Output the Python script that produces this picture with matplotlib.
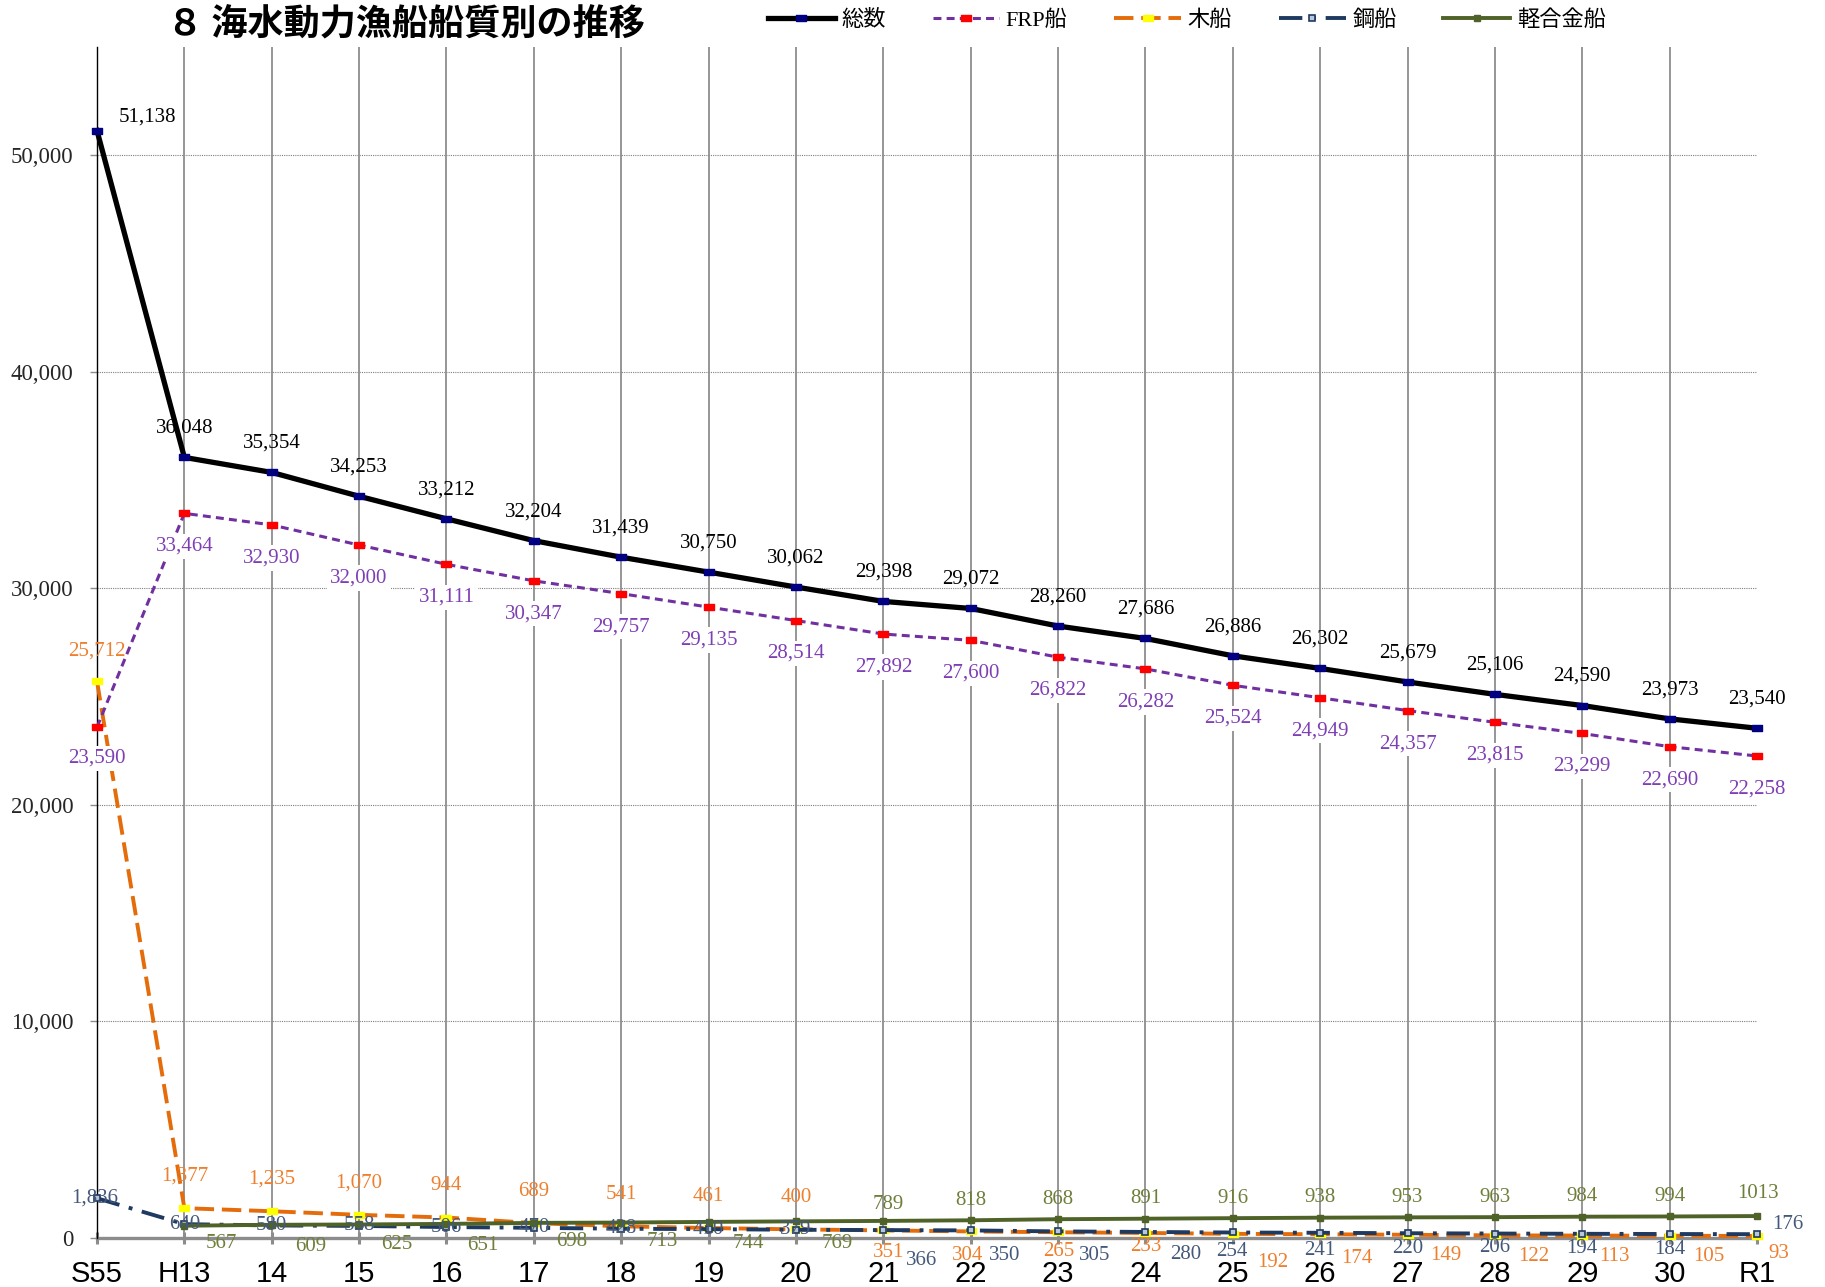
import matplotlib
matplotlib.use('Agg')
import matplotlib.pyplot as plt
import numpy as np

# ---------------- data ----------------
categories = ['S55', 'H13', '14', '15', '16', '17', '18', '19', '20', '21',
              '22', '23', '24', '25', '26', '27', '28', '29', '30', 'R1']
total = [51138, 36048, 35354, 34253, 33212, 32204, 31439, 30750, 30062, 29398,
         29072, 28260, 27686, 26886, 26302, 25679, 25106, 24590, 23973, 23540]
frp = [23590, 33464, 32930, 32000, 31111, 30347, 29757, 29135, 28514, 27892,
       27600, 26822, 26282, 25524, 24949, 24357, 23815, 23299, 22690, 22258]
wood = [25712, 1377, 1235, 1070, 944, 689, 541, 461, 400, 351,
        304, 265, 233, 192, 174, 149, 122, 113, 105, 93]
steel = [1836, 640, 580, 558, 506, 470, 428, 410, 379, 366,
         350, 305, 280, 254, 241, 220, 206, 194, 184, 176]
alloy = [None, 567, 609, 625, 651, 698, 713, 744, 769, 789,
         818, 868, 891, 916, 938, 953, 963, 984, 994, 1013]
series_names = ['総数', 'FRP船', '木船', '鋼船', '軽合金船']
title = '８ 海水動力漁船船質別の推移'
yticks = [0, 10000, 20000, 30000, 40000, 50000]

# ---------------- label layout (pixel offsets) ----------------
total_off = [(50, 14)] + [(0, 29)] * 19
frp_off = [(0, -31)] + [(0, -33)] * 19
wood_off = [(0, 30)] + [(0, 32)] * 8 + [(5, -22), (-3, -24), (1, -19), (0, -14),
                                       (40, -29), (37, -24), (38, -21), (39, -21),
                                       (32, -21), (39, -21), (22, -18)]
steel_off = [(-2, 0)] + [(0, 0)] * 8 + [(38, -30), (34, -25), (37, -24), (40, -23),
                                        (-1, -19), (0, -18), (0, -15), (0, -14),
                                        (0, -15), (0, -15), (31, 10)]
alloy_off = [(0, 0)] + [(37, -18), (39, -22), (38, -20), (36, -22), (38, -19),
                        (41, -19), (40, -22), (41, -22)] + [(5, 16)] + [(0, 20)] * 9 + [(1, 23)]

SERIF = ['Liberation Serif', 'Noto Sans CJK JP']
CJK = ['Noto Sans CJK JP', 'DejaVu Sans']

fig = plt.figure(figsize=(18.25, 12.87), dpi=100)
ax = fig.add_axes([97 / 1825, 1 - 1238 / 1287, (1757 - 97) / 1825, (1238 - 47) / 1287])

x = np.arange(len(categories))
rect = [(-1, -0.55), (1, -0.55), (1, 0.55), (-1, 0.55), (-1, -0.55)]

alloy_arr = np.array([np.nan if v is None else v for v in alloy], dtype=float)

l_tot, = ax.plot(x, total, color='black', lw=3.8, marker=rect, ms=7.5,
                 mfc='#000080', mec='#000080', zorder=6, clip_on=False,
                 solid_joinstyle='round', label=series_names[0])
l_frp, = ax.plot(x, frp, color='#7030A0', lw=2.2, ls=(0, (2.6, 1.7)), marker=rect,
                 ms=7.5, mfc='#FF0000', mec='#FF0000', zorder=5, clip_on=False,
                 label=series_names[1])
l_wood, = ax.plot(x, wood, color='#E46C0A', lw=2.8, ls=(0, (5.0, 2.0)), marker=rect,
                  ms=7.5, mfc='#FFFF00', mec='#FFFF00', zorder=4, clip_on=False,
                  label=series_names[2])
l_steel, = ax.plot(x, steel, color='#1F3A60', lw=2.8, ls=(0, (6.0, 2.5, 1.0, 2.5)),
                   marker='s', ms=4.5, mfc='#B9C7DA', mec='#1F3A60', mew=1.2,
                   zorder=4, clip_on=False, label=series_names[3])
l_alloy, = ax.plot(x, alloy_arr, color='#4F6228', lw=2.8, marker='s', ms=5,
                   mfc='#4F6228', mec='#4F6228', zorder=4, clip_on=False,
                   label=series_names[4])

# ---------------- labels ----------------
def put_labels(vals, offs, color, fmt, bbox=None):
    for i, v in enumerate(vals):
        if v is None:
            continue
        ax.annotate(fmt(v), xy=(x[i], v), xytext=offs[i], textcoords='offset pixels',
                    ha='center', va='center', fontsize=15, family=SERIF,
                    color=color, zorder=10, bbox=bbox, annotation_clip=False)

white = dict(boxstyle='square,pad=0.15', fc='white', ec='none')
put_labels(total, total_off, '#000000', lambda v: f'{v:,}')
put_labels(frp, frp_off, '#7F3FB4', lambda v: f'{v:,}', bbox=white)
put_labels(wood, wood_off, '#EE7F2D', lambda v: f'{v:,}')
put_labels(steel, steel_off, '#44587A', lambda v: f'{v:,}')
put_labels(alloy, alloy_off, '#6E7F3A', lambda v: f'{v}')

# ---------------- axes styling ----------------
ax.set_xlim(0, len(categories) - 1)
ax.set_ylim(0, 55000)
ax.set_yticks(yticks)
ax.set_yticklabels([f'{v:,}' for v in yticks], family=SERIF, fontsize=16.5, color='#262626')
ax.set_xticks(x)
ax.set_xticklabels(categories, family=['Liberation Sans'], fontsize=21, color='black')
ax.tick_params(axis='x', direction='inout', length=9, width=2.2, color='#8C8C8C', pad=11)
ax.tick_params(axis='y', direction='out', length=5, width=1, color='#8C8C8C', pad=12)

for s in ['top', 'right']:
    ax.spines[s].set_visible(False)
ax.spines['left'].set_color('black')
ax.spines['left'].set_linewidth(1.0)
ax.spines['left'].set_zorder(3)
ax.spines['bottom'].set_color('#8C8C8C')
ax.spines['bottom'].set_linewidth(2.4)

ax.yaxis.grid(True, ls=(0, (1, 1)), color='#7F7F7F', lw=0.8)
ax.xaxis.grid(False)
ax.set_axisbelow(True)
for i in x[1:-1]:
    ax.axvline(i, color='#8E8E8E', lw=1.3, zorder=1)

# ---------------- title & legend ----------------
fig.text(167 / 1825, 1 - 25 / 1287, title, family=CJK, fontsize=26,
         fontweight='bold', ha='left', va='center')

leg = fig.legend(handles=[l_tot, l_frp, l_wood, l_steel, l_alloy], ncol=5,
                 loc='center left', bbox_to_anchor=(768 / 1825, 1 - 20 / 1287),
                 frameon=False, handlelength=3.0, handletextpad=0.3,
                 columnspacing=2.1, borderpad=0, borderaxespad=0, numpoints=1,
                 prop={'family': SERIF, 'size': 16})

fig.savefig('out.png', dpi=100)
